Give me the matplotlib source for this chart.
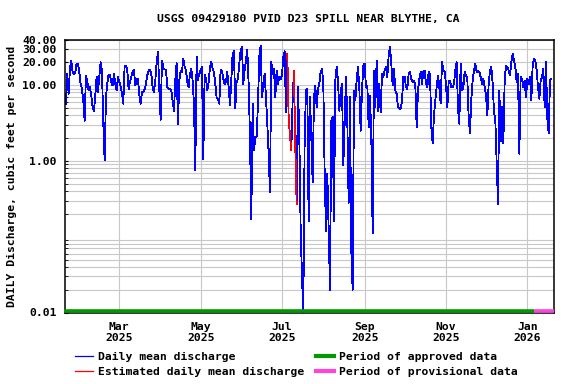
import numpy as np
import pandas as pd
import matplotlib
matplotlib.use('Agg')
import matplotlib.pyplot as plt
import matplotlib.dates as mdates
import matplotlib.transforms as mtransforms
from matplotlib.lines import Line2D
from matplotlib.ticker import LogLocator, NullFormatter, FixedLocator, FixedFormatter

# daily mean discharge, cfs, starting 2025-01-20
flow = [
    5.7, 14.1, 7.7, 16.4, 21.2, 14.9, 14.1, 14.9, 19.2, 19.2,
    14.9, 10.4, 8.9, 6.3, 3.4, 13.4, 11.0, 8.5, 9.4, 7.3,
    5.1, 4.6, 7.3, 12.8, 8.1, 12.8, 20.1, 15.6, 3.2, 1.03,
    6.9, 10.4, 13.8, 13.8, 11.0, 9.9, 14.1, 10.4, 8.5, 12.8,
    11.0, 9.6, 7.8, 5.7, 18.2, 18.2, 15.6, 8.9, 11.0, 12.8,
    14.9, 16.0, 9.9, 11.8, 12.1, 7.5, 5.7, 8.1, 8.1, 8.7,
    10.4, 13.4, 15.6, 16.1, 14.1, 9.4, 8.1, 11.3, 20.1, 27.3,
    8.9, 3.5, 21.2, 16.9, 16.1, 16.0, 9.4, 8.9, 8.9, 8.5,
    6.3, 4.6, 11.5, 19.5, 3.1, 11.5, 15.6, 14.9, 22.3, 17.7,
    15.6, 11.0, 9.4, 14.1, 16.4, 11.5, 5.7, 0.76, 23.9, 11.8,
    14.1, 15.6, 17.3, 1.06, 13.7, 12.1, 8.5, 11.0, 17.3, 20.1,
    16.4, 14.9, 10.4, 6.8, 6.6, 5.7, 16.1, 15.2, 12.1, 10.4,
    11.0, 14.9, 9.4, 5.4, 12.1, 25.9, 28.1, 4.9, 11.0, 12.1,
    19.2, 28.7, 31.8, 10.4, 15.6, 21.2, 29.3, 10.4, 2.1, 0.17,
    5.7, 1.4, 2.0, 2.1, 5.7, 23.5, 33.4, 6.9, 10.4, 14.1,
    6.9, 3.1, 1.24, 0.39, 20.1, 14.1, 16.4, 6.9, 15.6, 10.4,
    12.8, 12.1, 13.4, 23.5, 28.1, 4.4, 25.9, 3.8, 2.1, 1.4,
    6.3, 15.6, 1.5, 0.27, 9.4, 2.1, 0.13, 0.030, 0.01, 1.9,
    8.5, 8.9, 0.16, 6.9, 2.1, 0.52, 6.9, 9.9, 5.1, 8.9,
    10.4, 14.9, 16.4, 10.4, 0.71, 0.12, 0.67, 0.13, 0.020, 3.4,
    3.8, 0.16, 11.5, 17.3, 11.5, 4.6, 8.1, 10.4, 0.87, 3.1,
    12.8, 3.4, 0.28, 6.9, 0.065, 0.020, 8.5, 6.3, 11.5, 17.3,
    9.4, 2.5, 8.5, 18.2, 19.2, 9.4, 9.9, 2.8, 7.3, 2.1,
    0.11, 15.6, 5.1, 21.2, 4.6, 10.4, 4.4, 14.1, 12.8, 15.6,
    17.3, 12.8, 24.6, 31.8, 19.2, 9.9, 16.4, 8.5, 7.7, 5.1,
    4.9, 4.9, 6.0, 12.8, 12.8, 9.4, 8.9, 14.1, 14.9, 12.1,
    11.0, 11.5, 9.9, 2.8, 8.5, 12.1, 14.9, 10.4, 14.9, 15.6,
    10.4, 9.4, 14.9, 14.1, 2.8, 1.7, 4.0, 6.3, 9.4, 13.4,
    9.4, 5.7, 20.1, 15.6, 14.9, 10.4, 5.1, 11.0, 11.5, 9.4,
    9.4, 10.4, 15.6, 20.1, 4.9, 3.1, 19.2, 8.5, 9.4, 14.9,
    13.4, 12.1, 3.8, 2.3, 6.6, 11.5, 15.6, 19.2, 14.9, 15.6,
    14.9, 12.8, 10.4, 12.1, 9.4, 7.3, 4.0, 10.4, 15.6, 17.3,
    10.4, 4.4, 3.4, 1.0, 0.27, 8.5, 1.8, 5.1, 1.7, 11.5,
    18.2, 17.3, 15.6, 13.4, 20.1, 25.9, 21.2, 17.3, 11.0, 14.1,
    1.24, 12.8, 12.1, 9.4, 11.5, 6.9, 12.1, 10.4, 12.8, 6.3,
    18.2, 22.3, 21.2, 15.6, 9.4, 6.6, 11.5, 12.8, 16.4, 5.1,
    20.1, 3.6, 2.3, 11.5, 12.1,
]
start_date = '2025-01-20'
est_dates = ['2025-07-05', '2025-07-06', '2025-07-07', '2025-07-08',
             '2025-07-10', '2025-07-11', '2025-07-12']
prov_start = '2026-01-06'

ytick_vals = [0.01, 1, 10, 20, 30, 40]
ytick_labels = ['0.01', '1.00', '10.00', '20.00', '30.00', '40.00']
xtick_dates = ['2025-03-01', '2025-05-01', '2025-07-01', '2025-09-01', '2025-11-01', '2026-01-01']
xtick_labels = ['Mar\n2025', 'May\n2025', 'Jul\n2025', 'Sep\n2025', 'Nov\n2025', 'Jan\n2026']

dates = pd.date_range(start_date, periods=len(flow), freq='D')
flow = np.array(flow)
est = dates.isin(pd.to_datetime(est_dates))
flow_est = np.where(est, flow, np.nan)

font = {'family': 'DejaVu Sans Mono', 'weight': 'bold', 'size': 8.2}
green = '#009900'
magenta = '#ff44dd'
gridc = '#c8c8c8'

fig = plt.figure(figsize=(5.76, 3.84), dpi=100)
ax = fig.add_axes([65/576, 1-312.5/384, 489/576, 273/384])

ax.plot(dates, flow, color='#0000ff', lw=0.6, antialiased=False)
ax.plot(dates, flow_est, color='#ff0000', lw=0.6, antialiased=False)

x0 = pd.Timestamp('2025-01-19 07:00')
x1 = pd.Timestamp('2026-01-21 00:00')
ax.set_xlim(x0, x1)
ax.set_yscale('log')
ax.set_ylim(0.01, 40)

# approved / provisional bars along the bottom
trans = mtransforms.blended_transform_factory(ax.transData, ax.transAxes)
ax.plot([x0 - pd.Timedelta(days=0.8), pd.Timestamp(prov_start)], [0.005, 0.005], color=green, lw=2.6,
        transform=trans, clip_on=False, solid_capstyle='butt', zorder=5)
ax.plot([pd.Timestamp(prov_start), x1], [0.005, 0.005], color=magenta, lw=2.6,
        transform=trans, clip_on=False, solid_capstyle='butt', zorder=5)

# grid
ax.yaxis.set_minor_locator(LogLocator(base=10, subs=np.arange(2, 10)))
ax.yaxis.set_minor_formatter(NullFormatter())
ax.yaxis.set_major_locator(FixedLocator(ytick_vals))
ax.yaxis.set_major_formatter(FixedFormatter(ytick_labels))
ax.grid(True, which='both', axis='y', color=gridc, lw=0.8)
xt = mdates.date2num(pd.to_datetime(xtick_dates))
ax.set_xticks(xt)
ax.set_xticklabels(xtick_labels, fontdict=font, linespacing=1.15)
ax.grid(True, axis='x', color=gridc, lw=0.8)
ax.set_axisbelow(True)
for lab in ax.get_yticklabels():
    lab.set_fontproperties(matplotlib.font_manager.FontProperties(**font))
ax.tick_params(axis='x', length=0, pad=7)
ax.tick_params(axis='y', which='both', direction='in', length=2, pad=6)
for s in ax.spines.values():
    s.set_linewidth(1.1)
    s.set_color('black')

ax.set_ylabel('DAILY Discharge, cubic feet per second', fontdict=font)
ax.yaxis.set_label_coords(-0.098, 0.5)
fig.text(308/576, 1-19/384, 'USGS 09429180 PVID D23 SPILL NEAR BLYTHE, CA',
         ha='center', va='center', fontdict=font)

handles = [Line2D([], [], color='#0000ff', lw=0.9),
           Line2D([], [], color='#ff0000', lw=0.9),
           Line2D([], [], color=green, lw=3),
           Line2D([], [], color=magenta, lw=3)]
labels = ['Daily mean discharge', 'Estimated daily mean discharge',
          'Period of approved data', 'Period of provisional data']
fig.legend(handles, labels, loc='upper left', bbox_to_anchor=(75/576, 1-352/384), ncol=2,
           frameon=False, prop=matplotlib.font_manager.FontProperties(**font),
           handlelength=1.6, handletextpad=0.45, columnspacing=1.0, labelspacing=0.45,
           borderpad=0, borderaxespad=0)

fig.savefig('out.png', dpi=100)
